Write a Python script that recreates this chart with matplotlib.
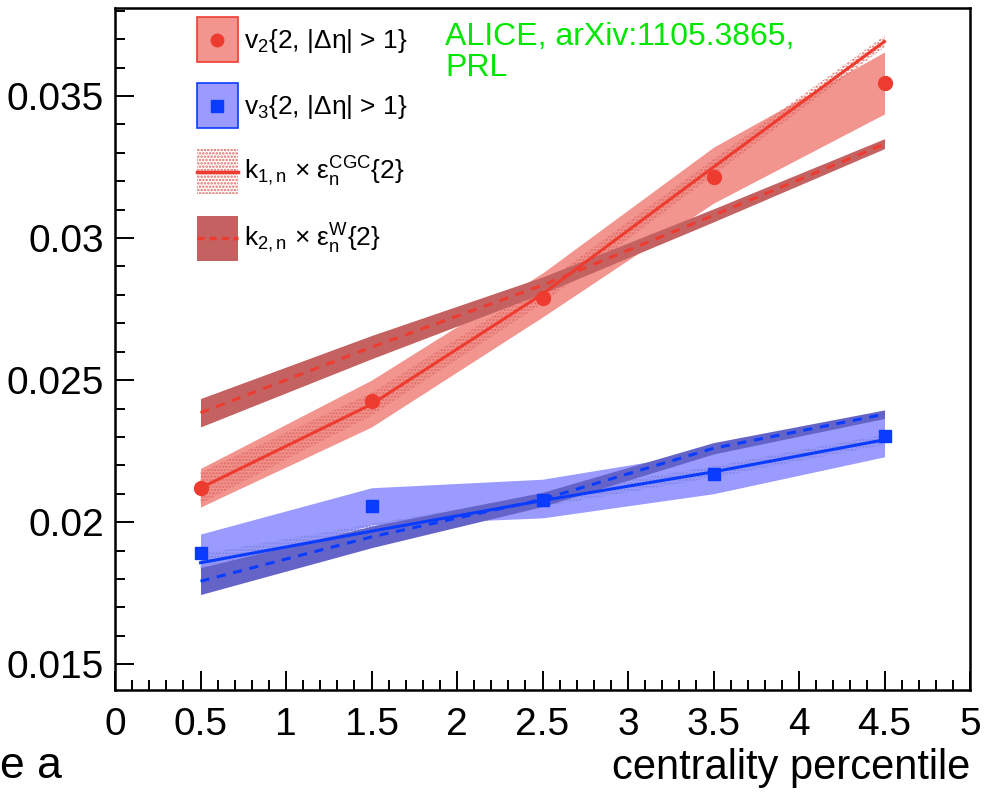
import numpy as np
import matplotlib.pyplot as plt
from matplotlib.patches import Patch
from matplotlib.lines import Line2D
from matplotlib.legend_handler import HandlerLine2D
from matplotlib.ticker import MultipleLocator, FixedLocator, FixedFormatter

plt.rcParams['font.family'] = ['Liberation Sans', 'DejaVu Sans']
plt.rcParams['mathtext.fontset'] = 'custom'
plt.rcParams['mathtext.rm'] = 'Liberation Sans'
plt.rcParams['mathtext.it'] = 'Liberation Sans'
plt.rcParams['mathtext.default'] = 'regular'
plt.rcParams['hatch.linewidth'] = 1.2

# ----------- Data -----------
centrality = [0.5, 1.5, 2.5, 3.5, 4.5]

# v2{2, |deta|>1} points and band
v2 = [0.02121, 0.02426, 0.02790, 0.03215, 0.03547]
v2_lo = [0.02053, 0.02335, 0.02722, 0.03123, 0.03437]
v2_hi = [0.02189, 0.02500, 0.02877, 0.03320, 0.03655]

# v3{2, |deta|>1} points and band
v3 = [0.01891, 0.02056, 0.02077, 0.02170, 0.02303]
v3_lo = [0.01824, 0.01990, 0.02015, 0.02100, 0.02230]
v3_hi = [0.01958, 0.02121, 0.02151, 0.02250, 0.02376]

# k1,n x eps_n^CGC{2}
cgc2 = [0.02120, 0.02415, 0.02803, 0.03250, 0.03692]
cgc2_lo = [0.02065, 0.02375, 0.02770, 0.03222, 0.03672]
cgc2_hi = [0.02175, 0.02455, 0.02836, 0.03278, 0.03712]
cgc3 = [0.01857, 0.01968, 0.02076, 0.02177, 0.02290]
cgc3_lo = [0.01827, 0.01942, 0.02054, 0.02157, 0.02272]
cgc3_hi = [0.01887, 0.01994, 0.02098, 0.02197, 0.02308]

# k2,n x eps_n^W{2}
w2 = [0.02385, 0.02616, 0.02834, 0.03080, 0.03331]
w2_lo = [0.02335, 0.02575, 0.02805, 0.03057, 0.03315]
w2_hi = [0.02435, 0.02657, 0.02863, 0.03103, 0.03350]
w3 = [0.01792, 0.01948, 0.02080, 0.02260, 0.02380]
w3_lo = [0.01745, 0.01910, 0.02055, 0.02240, 0.02365]
w3_hi = [0.01840, 0.01986, 0.02105, 0.02280, 0.02395]

x_ticks = [0, 0.5, 1, 1.5, 2, 2.5, 3, 3.5, 4, 4.5, 5]
x_labels = ['0', '0.5', '1', '1.5', '2', '2.5', '3', '3.5', '4', '4.5', '5']
y_ticks = [0.015, 0.02, 0.025, 0.03, 0.035]
y_labels = ['0.015', '0.02', '0.025', '0.03', '0.035']

labels = [r'v$_2${2, |Δη| > 1}',
          r'v$_3${2, |Δη| > 1}',
          r'k$_{1,n}$ × ε$_n^{CGC}${2}',
          r'k$_{2,n}$ × ε$_n^{W}${2}']

# ----------- Colours -----------
red = '#ee3b30'
light_red = '#f2958f'
dark_red = '#c46262'
blue = '#0a3cff'
light_blue = '#9a9aff'
dark_blue = '#6464c8'


# legend lines/markers centred on the tall patch boxes
class CenteredLine(HandlerLine2D):
    def create_artists(self, legend, orig_handle, xdescent, ydescent,
                       width, height, fontsize, trans):
        return super().create_artists(legend, orig_handle, xdescent, ydescent,
                                      width, height - ydescent, fontsize, trans)


# ----------- Plot -----------
fig = plt.figure(figsize=(9.87, 7.92), dpi=100)
ax = fig.add_axes([115/987, 1-690/792, (970-115)/987, (690-8)/792])

# experimental bands
ax.fill_between(centrality, v2_lo, v2_hi, color=light_red, lw=0, zorder=1)
ax.fill_between(centrality, v3_lo, v3_hi, color=light_blue, lw=0, zorder=1)

# CGC bands (stippled)
ax.fill_between(centrality, cgc2_lo, cgc2_hi, facecolor='none', edgecolor='#e06a64',
                hatch='.....', lw=0, zorder=2)
ax.fill_between(centrality, cgc3_lo, cgc3_hi, facecolor='none', edgecolor='#7f86e0',
                hatch='.....', lw=0, zorder=2)

# Glauber (W) bands
ax.fill_between(centrality, w2_lo, w2_hi, color=dark_red, lw=0, zorder=3)
ax.fill_between(centrality, w3_lo, w3_hi, color=dark_blue, lw=0, zorder=3)

# model lines
ax.plot(centrality, cgc2, color=red, lw=2.2, zorder=4)
ax.plot(centrality, cgc3, color=blue, lw=2.2, zorder=4)
ax.plot(centrality, w2, color=red, lw=2.2, ls=(0, (3, 2.5)), zorder=4)
ax.plot(centrality, w3, color=blue, lw=2.2, ls=(0, (3, 2.5)), zorder=4)

# data points
ax.plot(centrality, v2, 'o', color=red, ms=10, mec=red, zorder=5)
ax.plot(centrality, v3, 's', color=blue, ms=9, mec=blue, zorder=5)

ax.set_xlim(0, 5)
ax.set_ylim(0.01409, 0.0381)
ax.xaxis.set_major_locator(FixedLocator(x_ticks))
ax.xaxis.set_major_formatter(FixedFormatter(x_labels))
ax.xaxis.set_minor_locator(MultipleLocator(0.1))
ax.yaxis.set_major_locator(FixedLocator(y_ticks))
ax.yaxis.set_major_formatter(FixedFormatter(y_labels))
ax.yaxis.set_minor_locator(MultipleLocator(0.001))
ax.tick_params(which='both', direction='in', width=1.4, color='black',
               top=False, right=False, labelsize=28)
ax.tick_params(axis='x', which='major', length=14, pad=12)
ax.tick_params(axis='y', which='major', length=14, pad=8)
ax.tick_params(which='minor', length=7)
for s in ax.spines.values():
    s.set_linewidth(1.8)

ax.set_xlabel('centrality percentile', fontsize=30, loc='right', labelpad=4)

# legend
handles = [
    (Patch(facecolor=light_red, edgecolor=red, lw=1.2),
     Line2D([], [], marker='o', color=red, ls='none', ms=9)),
    (Patch(facecolor=light_blue, edgecolor=blue, lw=1.2),
     Line2D([], [], marker='s', color=blue, ls='none', ms=8)),
    (Patch(facecolor='none', edgecolor='#e06a64', hatch='.....', lw=0),
     Line2D([], [], color=red, lw=2.5)),
    (Patch(facecolor=dark_red, edgecolor=dark_red, lw=0),
     Line2D([], [], color=red, lw=2.5, ls=(0, (2, 1.5)))),
]
ax.legend(handles, labels, loc='upper left', bbox_to_anchor=(197/987, 1-17/792),
          bbox_transform=fig.transFigure, frameon=False, fontsize=19,
          handlelength=1.55, handleheight=2.25, labelspacing=0.8,
          handletextpad=0.25, borderpad=0, borderaxespad=0, numpoints=1,
          handler_map={Line2D: CenteredLine()})

fig.text(445/987, 1-22/792, 'ALICE, arXiv:1105.3865,\nPRL', color='#00e600',
         fontsize=23, ha='left', va='top', linespacing=1.05)

fig.text(0.0, 1-778/792, 'e a', fontsize=32, ha='left', va='baseline')

fig.savefig('out.png', dpi=100)
